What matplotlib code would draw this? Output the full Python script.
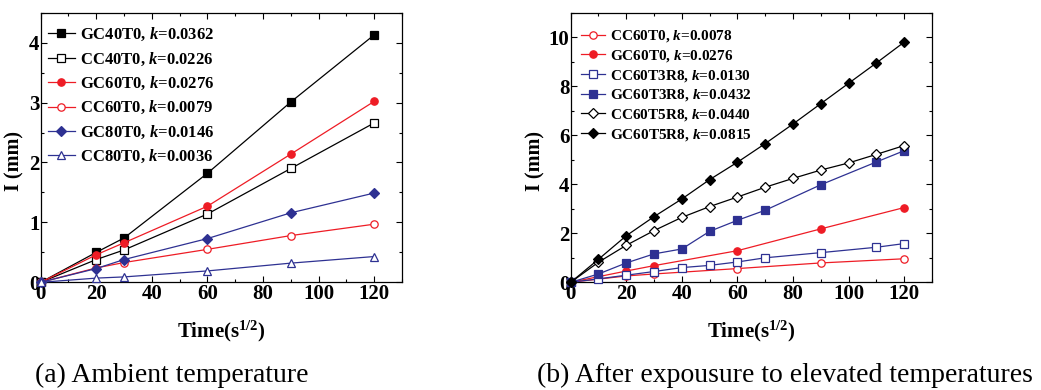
import matplotlib
matplotlib.use("Agg")
import matplotlib.pyplot as plt
from matplotlib.ticker import MultipleLocator

plt.rcParams["font.family"] = ["Liberation Serif", "DejaVu Serif"]
plt.rcParams["mathtext.fontset"] = "custom"
plt.rcParams["mathtext.rm"] = "Liberation Serif"
plt.rcParams["mathtext.bf"] = "Liberation Serif:bold"
plt.rcParams["mathtext.it"] = "Liberation Serif:italic"
plt.rcParams["mathtext.bfit"] = "Liberation Serif:bold:italic"

BLACK = "#000000"
RED = "#ee1c25"
BLUE = "#2e3192"

# ---- (a) ambient temperature ----
t_a = [0, 20, 30, 60, 90, 120]
gc40t0 = [0, 0.50, 0.74, 1.82, 3.01, 4.13]
cc40t0 = [0, 0.38, 0.54, 1.14, 1.90, 2.66]
gc60t0_a = [0, 0.46, 0.66, 1.27, 2.14, 3.02]
cc60t0_a = [0, 0.24, 0.33, 0.55, 0.78, 0.97]
gc80t0 = [0, 0.23, 0.38, 0.73, 1.16, 1.49]
cc80t0 = [0, 0.07, 0.09, 0.19, 0.32, 0.43]
k_a = ["0.0362", "0.0226", "0.0276", "0.0079", "0.0146", "0.0036"]

# ---- (b) after exposure to elevated temperatures ----
t_b60 = [0, 20, 30, 60, 90, 120]
cc60t0_b = [0, 0.26, 0.34, 0.56, 0.79, 0.96]
gc60t0_b = [0, 0.46, 0.68, 1.29, 2.18, 3.05]
t_b3 = [0, 10, 20, 30, 40, 50, 60, 70, 90, 110, 120]
cc60t3r8 = [0, 0.14, 0.29, 0.44, 0.60, 0.69, 0.83, 1.00, 1.21, 1.43, 1.58]
gc60t3r8 = [0, 0.34, 0.79, 1.16, 1.36, 2.08, 2.53, 2.94, 3.98, 4.91, 5.37]
t_b5 = [0, 10, 20, 30, 40, 50, 60, 70, 80, 90, 100, 110, 120]
cc60t5r8 = [0, 0.82, 1.51, 2.11, 2.65, 3.09, 3.48, 3.88, 4.24, 4.58, 4.87, 5.22, 5.58]
gc60t5r8 = [0, 0.94, 1.90, 2.68, 3.40, 4.19, 4.90, 5.66, 6.46, 7.29, 8.12, 8.95, 9.80]
k_b = ["0.0078", "0.0276", "0.0130", "0.0432", "0.0440", "0.0815"]

W, H = 1041, 390
fig = plt.figure(figsize=(W / 100, H / 100), dpi=100)


def box(x0, y0, x1, y1):
    return [x0 / W, 1 - y1 / H, (x1 - x0) / W, (y1 - y0) / H]


ax1 = fig.add_axes(box(40.7, 12.7, 402, 282.3))
ax2 = fig.add_axes(box(570.7, 12.7, 932, 282.3))


def lab(name, k):
    return f"{name}, $\\mathbfit{{k}}$=" + k


def series(ax, x, y, color, marker, filled, label, ms=5.3):
    ax.plot(x, y, color=color, lw=0.9, marker=marker, ms=ms, mew=0.9,
            mfc=color if filled else "white", mec=color, label=label,
            clip_on=False, zorder=3)


series(ax1, t_a, gc40t0, BLACK, "s", True, lab("GC40T0", k_a[0]))
series(ax1, t_a, cc40t0, BLACK, "s", False, lab("CC40T0", k_a[1]))
series(ax1, t_a, gc60t0_a, RED, "o", True, lab("GC60T0", k_a[2]))
series(ax1, t_a, cc60t0_a, RED, "o", False, lab("CC60T0", k_a[3]))
series(ax1, t_a, gc80t0, BLUE, "D", True, lab("GC80T0", k_a[4]), ms=4.8)
series(ax1, t_a, cc80t0, BLUE, "^", False, lab("CC80T0", k_a[5]), ms=5.8)

series(ax2, t_b60, cc60t0_b, RED, "o", False, lab("CC60T0", k_b[0]))
series(ax2, t_b60, gc60t0_b, RED, "o", True, lab("GC60T0", k_b[1]))
series(ax2, t_b3, cc60t3r8, BLUE, "s", False, lab("CC60T3R8", k_b[2]))
series(ax2, t_b3, gc60t3r8, BLUE, "s", True, lab("GC60T3R8", k_b[3]))
series(ax2, t_b5, cc60t5r8, BLACK, "D", False, lab("CC60T5R8", k_b[4]), ms=5)
series(ax2, t_b5, gc60t5r8, BLACK, "D", True, lab("GC60T5R8", k_b[5]), ms=5)

for ax, ymax, ymaj, ymin, ylx in [(ax1, 4.5, 1, 0.5, -0.046),
                                  (ax2, 11, 2, 1, -0.071)]:
    ax.set_xlim(0, 130)
    ax.set_ylim(0, ymax)
    ax.xaxis.set_major_locator(MultipleLocator(20))
    ax.xaxis.set_minor_locator(MultipleLocator(10))
    ax.yaxis.set_major_locator(MultipleLocator(ymaj))
    ax.yaxis.set_minor_locator(MultipleLocator(ymin))
    ax.tick_params(which="both", direction="in", top=True, right=True,
                   width=0.8, labelsize=15, pad=1)
    ax.tick_params(which="major", length=4)
    ax.tick_params(which="minor", length=2.5)
    for lbl in ax.get_xticklabels() + ax.get_yticklabels():
        lbl.set_fontweight("bold")
    for sp in ax.spines.values():
        sp.set_linewidth(0.9)
    ax.set_xlabel("Time(s$^{\\mathbf{1/2}}$)", fontsize=15, fontweight="bold")
    ax.xaxis.set_label_coords(0.5, -0.135)
    ax.set_ylabel("I (mm)", fontsize=14.5, fontweight="bold")
    ax.yaxis.set_label_coords(ylx, 0.45)

ax1.legend(loc="upper left", bbox_to_anchor=(48 / W, 1 - 26 / H),
           bbox_transform=fig.transFigure, frameon=False,
           prop={"weight": "bold", "size": 12}, handlelength=1.6,
           handletextpad=0.3, labelspacing=0.43, borderpad=0,
           borderaxespad=0)
ax2.legend(loc="upper left", bbox_to_anchor=(581 / W, 1 - 28.5 / H),
           bbox_transform=fig.transFigure, frameon=False,
           prop={"weight": "bold", "size": 11}, handlelength=1.6,
           handletextpad=0.3, labelspacing=0.24, borderpad=0,
           borderaxespad=0)

fig.text(35 / W, 1 - 375 / H, "(a) Ambient temperature", fontsize=20,
         ha="left", va="center")
fig.text(537 / W, 1 - 375 / H, "(b) After expousure to elevated temperatures",
         fontsize=20, ha="left", va="center")

fig.savefig("out.png", dpi=100)
